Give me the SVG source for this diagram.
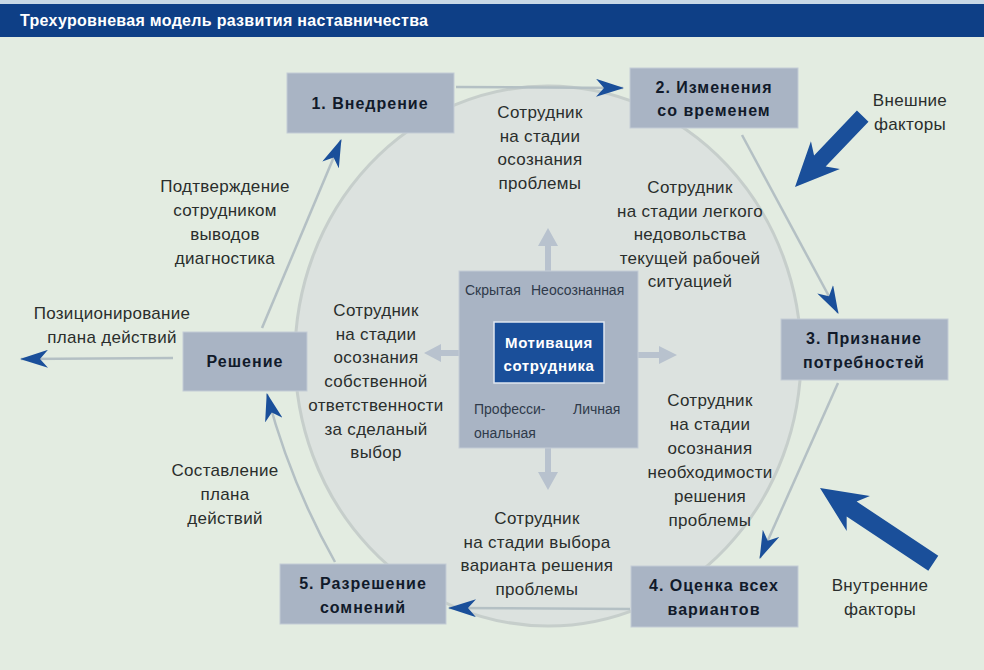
<svg xmlns="http://www.w3.org/2000/svg" width="984" height="670" viewBox="0 0 984 670">
<style>
.t{font-family:"Liberation Sans",Arial,sans-serif;font-size:17px;letter-spacing:0.3px;fill:#2a2e2c;text-anchor:middle}
.nb{fill:#a9b4c4;stroke:#c3ccd6;stroke-width:1}
.nt{font-family:"Liberation Sans",Arial,sans-serif;font-size:16px;font-weight:bold;letter-spacing:1px;fill:#111a2a;text-anchor:middle}
.sm{font-family:"Liberation Sans",Arial,sans-serif;font-size:14px;fill:#2f3a4a}
.con{fill:none;stroke:#b4c0c4;stroke-width:2.5;marker-end:url(#bh)}
.ga{fill:#b8c2ce}
.big{fill:#1a4f9a}
</style>
<defs>
<marker id="bh" viewBox="0 0 28 18" refX="27" refY="9" markerWidth="28" markerHeight="18" markerUnits="userSpaceOnUse" orient="auto">
<path d="M0,0 L28,9 L0,18 L8,9 Z" fill="#1a4f9a"/>
</marker>
</defs>
<rect x="0" y="0" width="984" height="670" fill="#e3ece1"/>
<rect x="0" y="0" width="984" height="4" fill="#c8d8e6"/>
<rect x="0" y="4" width="984" height="33" fill="#0e3f86"/>
<text x="20" y="26" font-family="Liberation Sans,Arial,sans-serif" font-size="16" font-weight="bold" letter-spacing="0.3" fill="#ffffff">Трехуровневая модель развития наставничества</text>
<ellipse cx="548" cy="356" rx="253" ry="270" fill="#dce2df" stroke="#c6cecb" stroke-width="3"/>

<g id="connectors">
<line class="con" x1="456" y1="87" x2="623" y2="88"/>
<line class="con" x1="742" y1="135" x2="838" y2="313"/>
<line class="con" x1="838" y1="383" x2="760" y2="558"/>
<line class="con" x1="630" y1="609" x2="449" y2="608"/>
<path class="con" d="M335,562 Q290,482 267,394"/>
<line class="con" x1="262" y1="328" x2="341" y2="140"/>
<line class="con" x1="173" y1="358" x2="21" y2="359"/>
<g class="ga">
<polygon points="545,272 545,246 538,246 548,228 558,246 551,246 551,272"/>
<polygon points="459,350 441,350 441,344 424,353 441,362 441,356 459,356"/>
<polygon points="638,352 659,352 659,346 677,355 659,364 659,358 638,358"/>
<polygon points="545,448 545,472 538,472 548,490 558,472 551,472 551,448"/>
</g>
<polygon class="big" transform="translate(795,187) rotate(133.7)" points="0,0 -44,-20 -36,-8 -98,-8 -98,8 -36,8 -44,20"/>
<polygon class="big" transform="translate(820,488) rotate(-146.4)" points="0,0 -46,-21 -38,-9 -136,-9 -136,9 -38,9 -46,21"/>
</g>

<g id="n1"><rect class="nb" x="287" y="73" width="167" height="60"/><text class="nt" x="370" y="109">1. Внедрение</text></g>
<g id="n2"><rect class="nb" x="630" y="68" width="168" height="60"/><text class="nt" x="714" y="93">2. Изменения</text><text class="nt" x="714" y="116">со временем</text></g>
<g id="n3"><rect class="nb" x="781" y="319" width="167" height="61"/><text class="nt" x="864" y="344">3. Признание</text><text class="nt" x="864" y="368">потребностей</text></g>
<g id="n4"><rect class="nb" x="631" y="566" width="167" height="61"/><text class="nt" x="714" y="591">4. Оценка всех</text><text class="nt" x="714" y="615">вариантов</text></g>
<g id="n5"><rect class="nb" x="280" y="564" width="166" height="60"/><text class="nt" x="363" y="589">5. Разрешение</text><text class="nt" x="363" y="613">сомнений</text></g>
<g id="nr"><rect class="nb" x="183" y="332" width="124" height="59"/><text class="nt" x="245" y="367">Решение</text></g>

<g id="center">
<rect class="nb" x="459" y="271" width="179" height="177"/>
<text class="sm" x="465" y="295">Скрытая</text>
<text class="sm" x="531" y="295">Неосознанная</text>
<text class="sm" x="474" y="414">Професси-</text>
<text class="sm" x="474" y="438">ональная</text>
<text class="sm" x="573" y="414">Личная</text>
<rect x="494" y="322" width="110" height="61" fill="#1a4f9a" stroke="#dfe6ef" stroke-width="1.5"/>
<text x="549" y="348" font-family="Liberation Sans,Arial,sans-serif" font-size="15" font-weight="bold" letter-spacing="0.6" fill="#ffffff" text-anchor="middle">Мотивация</text>
<text x="549" y="371" font-family="Liberation Sans,Arial,sans-serif" font-size="15" font-weight="bold" letter-spacing="0.6" fill="#ffffff" text-anchor="middle">сотрудника</text>
</g>

<g id="labels">
<text class="t" x="540" y="118"><tspan x="540">Сотрудник</tspan><tspan x="540" dy="23.5">на стадии</tspan><tspan x="540" dy="23.5">осознания</tspan><tspan x="540" dy="23.5">проблемы</tspan></text>
<text class="t" x="690" y="193"><tspan x="690">Сотрудник</tspan><tspan x="690" dy="23.5">на стадии легкого</tspan><tspan x="690" dy="23.5">недовольства</tspan><tspan x="690" dy="23.5">текущей рабочей</tspan><tspan x="690" dy="23.5">ситуацией</tspan></text>
<text class="t" x="225" y="192"><tspan x="225">Подтверждение</tspan><tspan x="225" dy="24">сотрудником</tspan><tspan x="225" dy="24">выводов</tspan><tspan x="225" dy="24">диагностика</tspan></text>
<text class="t" x="112" y="319"><tspan x="112">Позиционирование</tspan><tspan x="112" dy="24">плана действий</tspan></text>
<text class="t" x="376" y="316"><tspan x="376">Сотрудник</tspan><tspan x="376" dy="23.7">на стадии</tspan><tspan x="376" dy="23.7">осознания</tspan><tspan x="376" dy="23.7">собственной</tspan><tspan x="376" dy="23.7">ответственности</tspan><tspan x="376" dy="23.7">за сделаный</tspan><tspan x="376" dy="23.7">выбор</tspan></text>
<text class="t" x="710" y="406"><tspan x="710">Сотрудник</tspan><tspan x="710" dy="24">на стадии</tspan><tspan x="710" dy="24">осознания</tspan><tspan x="710" dy="24">необходимости</tspan><tspan x="710" dy="24">решения</tspan><tspan x="710" dy="24">проблемы</tspan></text>
<text class="t" x="225" y="476"><tspan x="225">Составление</tspan><tspan x="225" dy="24">плана</tspan><tspan x="225" dy="24">действий</tspan></text>
<text class="t" x="537" y="524"><tspan x="537">Сотрудник</tspan><tspan x="537" dy="23.5">на стадии выбора</tspan><tspan x="537" dy="23.5">варианта решения</tspan><tspan x="537" dy="23.5">проблемы</tspan></text>
<text class="t" x="910" y="106"><tspan x="910">Внешние</tspan><tspan x="910" dy="24">факторы</tspan></text>
<text class="t" x="880" y="591"><tspan x="880">Внутренние</tspan><tspan x="880" dy="24">факторы</tspan></text>
</g>
</svg>
